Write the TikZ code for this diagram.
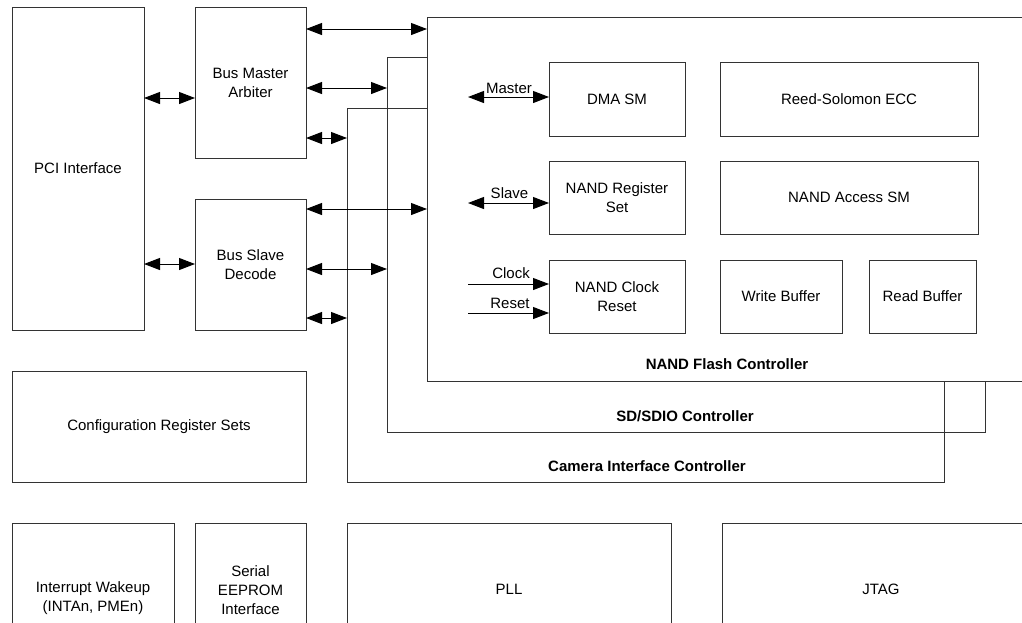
\documentclass[tikz,border=0pt]{standalone}
\usepackage{fontspec}
\setmainfont{Liberation Sans}
\usetikzlibrary{arrows.meta}
\begin{document}
\begin{tikzpicture}[x=1pt,y=-1pt,
  blk/.style={draw=black!80,line width=1pt,inner sep=0pt,outer sep=0pt,
    align=center,font=\fontsize{15}{19}\selectfont},
  lbl/.style={inner sep=0pt,font=\fontsize{15}{19}\selectfont},
  ttl/.style={inner sep=0pt,font=\bfseries\fontsize{15}{19}\selectfont},
  bus/.style={line width=1pt,
    {Triangle[length=16pt,width=12pt]}-{Triangle[length=16pt,width=12pt]}},
  sig/.style={line width=1pt,-{Triangle[length=16pt,width=12pt]}},
  wall/.style={draw=black!80,line width=1pt}]
\useasboundingbox (0,0) rectangle (1022,622);

% host side blocks
\node[blk,minimum width=132pt,minimum height=323pt] (pci) at (78,168.5) {PCI Interface};
\node[blk,minimum width=111pt,minimum height=151pt] (bma) at (250.5,82.5) {Bus Master\\Arbiter};
\node[blk,minimum width=111pt,minimum height=131pt] (bsd) at (250.5,264.5) {Bus Slave\\Decode};
\node[blk,minimum width=294pt,minimum height=111pt] (cfg) at (159,426.5) {Configuration Register Sets};

% bottom row (runs past the lower edge)
\node[blk,minimum width=162pt,minimum height=150pt] (intr) at (93,598) {Interrupt Wakeup\\(INTAn, PMEn)};
\node[blk,minimum width=111pt,minimum height=134pt] (eep) at (250.5,590) {Serial\\EEPROM\\Interface};
\node[blk,minimum width=324pt,minimum height=132pt] (pll) at (509,589) {PLL};
\node[blk,minimum width=318pt,minimum height=132pt] (jtag) at (881,589) {JTAG};

% NAND flash controller and its blocks
\node[blk,minimum width=618pt,minimum height=364pt] (nfc) at (736,199) {};
\node[ttl] (nfct) at (727,364) {NAND Flash Controller};
\node[blk,minimum width=136pt,minimum height=74pt] (dma) at (617,99) {DMA SM};
\node[blk,minimum width=136pt,minimum height=73pt] (nrs) at (617,197.5) {NAND Register\\Set};
\node[blk,minimum width=136pt,minimum height=73pt] (ncr) at (617,296.5) {NAND Clock\\Reset};
\node[blk,minimum width=258pt,minimum height=74pt] (rs) at (849,99) {Reed-Solomon ECC};
\node[blk,minimum width=258pt,minimum height=73pt] (nas) at (849,197.5) {NAND Access SM};
\node[blk,minimum width=122pt,minimum height=73pt] (wb) at (781,296.5) {Write Buffer};
\node[blk,minimum width=107pt,minimum height=73pt] (rb) at (922.5,296.5) {Read Buffer};

% SD/SDIO and camera controllers wrap around the NAND controller
\coordinate (sdtl) at (387,57);
\coordinate (sdbr) at (985,432);
\draw[wall] (sdtl -| nfc.west) -- (sdtl) |- (sdbr) -- (sdbr |- nfc.south);
\node[ttl] (sdt) at (685,416) {SD/SDIO Controller};
\coordinate (camtl) at (347,108);
\coordinate (cambr) at (944,482);
\draw[wall] (camtl -| nfc.west) -- (camtl) |- (cambr) -- (cambr |- nfc.south);
\node[ttl] (camt) at (647,466) {Camera Interface Controller};

% PCI side buses
\draw[bus] (pci.east |- 0,98) -- (bma.west |- 0,98);
\draw[bus] (pci.east |- 0,264) -- (bsd.west |- 0,264);

% master buses
\draw[bus] (bma.east |- 0,29) -- (nfc.west |- 0,29);
\draw[bus] (bma.east |- 0,88) -- (sdtl |- 0,88);
\draw[bus] (bma.east |- 0,138) -- (camtl |- 0,138);

% slave buses
\draw[bus] (bsd.east |- 0,209) -- (nfc.west |- 0,209);
\draw[bus] (bsd.east |- 0,269) -- (sdtl |- 0,269);
\draw[bus] (bsd.east |- 0,318) -- (camtl |- 0,318);

% internal NAND controller ports
\coordinate (pm) at (468,97);
\coordinate (ps) at (468,203);
\coordinate (pc) at (468,284);
\coordinate (pr) at (468,313);
\draw[bus] (pm) -- (pm -| dma.west);
\draw[bus] (ps) -- (ps -| nrs.west);
\draw[sig] (pc) -- (pc -| ncr.west);
\draw[sig] (pr) -- (pr -| ncr.west);
\node[lbl] (lm) at (509,88) {Master};
\node[lbl] (ls) at (509.5,193) {Slave};
\node[lbl] (lc) at (511,273) {Clock};
\node[lbl] (lr) at (510,303) {Reset};
\end{tikzpicture}
\end{document}
